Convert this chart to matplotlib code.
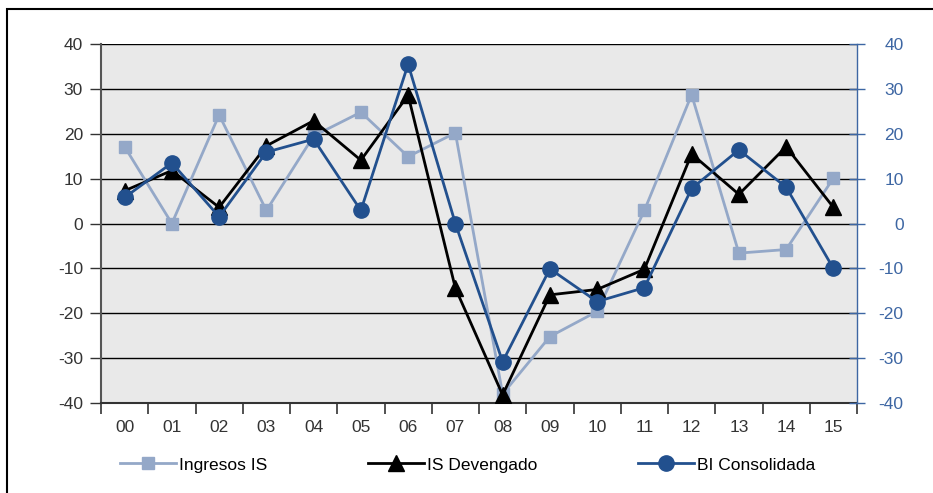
import numpy as np
import matplotlib
matplotlib.use("Agg")
import matplotlib.pyplot as plt
from matplotlib.patches import Rectangle

plt.rcParams['font.family'] = ['Liberation Sans', 'DejaVu Sans']
plt.rcParams['axes.unicode_minus'] = False

# Datos (variación %)
years = ['00', '01', '02', '03', '04', '05', '06', '07',
         '08', '09', '10', '11', '12', '13', '14', '15']
ingresos_is = [17.1, 0.0, 24.2, 2.9, 19.5, 24.8, 14.9, 20.2,
               -38.0, -25.2, -19.6, 2.9, 28.7, -6.6, -5.8, 10.1]
is_devengado = [7.3, 11.8, 3.6, 17.3, 22.9, 14.1, 28.6, -14.4,
                -38.2, -15.9, -14.7, -10.2, 15.5, 6.5, 17.1, 3.6]
bi_consolidada = [5.8, 13.5, 1.5, 15.9, 18.8, 2.9, 35.5, 0.0,
                  -30.8, -10.1, -17.4, -14.3, 7.8, 16.4, 8.1, -10.0]

c_light = '#94a8c8'
c_dark = '#22508e'
c_axis_blue = '#3d66a3'
c_text = '#333333'

fig = plt.figure(figsize=(9.33, 4.93), dpi=100)
ax = fig.add_axes([101/933, 1 - 403/493, 756/933, 359/493])
ax.set_facecolor('#e9e9e9')

x = np.arange(len(years))
ax.plot(x, ingresos_is, color=c_light, lw=2, marker='s', ms=9,
        label='Ingresos IS', zorder=3)
ax.plot(x, is_devengado, color='black', lw=2, marker='^', ms=11,
        label='IS Devengado', zorder=4)
ax.plot(x, bi_consolidada, color=c_dark, lw=2, marker='o', ms=11,
        label='BI Consolidada', zorder=5)

ax.set_xlim(-0.5, 15.5)
ax.set_ylim(-40, 40)
ax.set_yticks(range(-40, 41, 10))
ax.set_xticks(x)
ax.set_xticklabels(years)
ax.set_xticks(np.arange(-0.5, 16, 1), minor=True)
ax.tick_params(axis='x', which='major', length=0, pad=12, labelsize=12.5, colors=c_text)
ax.tick_params(axis='x', which='minor', length=8, width=1.2, color='#333333', direction='out')
ax.tick_params(axis='y', length=8, width=1, direction='out', pad=5, labelsize=12.5,
               colors=c_text)
ax.grid(axis='y', color='black', lw=1)
ax.set_axisbelow(True)

for side in ['top', 'right']:
    ax.spines[side].set_visible(False)
ax.spines['left'].set_color('#555555')
ax.spines['left'].set_linewidth(1.5)
ax.spines['bottom'].set_color('#333333')
ax.spines['bottom'].set_linewidth(1.5)

# eje derecho
ax2 = ax.twinx()
ax2.set_ylim(-40, 40)
ax2.set_yticks(range(-40, 41, 10))
ax2.tick_params(axis='y', length=11, width=1, direction='inout', pad=28,
                labelsize=12.5, colors=c_axis_blue)
for lbl in ax2.get_yticklabels():
    lbl.set_horizontalalignment('right')
for side in ['top', 'left', 'bottom']:
    ax2.spines[side].set_visible(False)
ax2.spines['right'].set_color(c_axis_blue)
ax2.spines['right'].set_linewidth(1)

fig.legend(loc='center', bbox_to_anchor=(468/933, 1 - 465/493), ncol=3,
           frameon=False, fontsize=12.5, handlelength=3.2, handletextpad=0.2,
           columnspacing=5.8)

fig.patches.append(Rectangle((7/933, -0.1), 1.1, 1 - 9/493 + 0.1,
                             transform=fig.transFigure, fill=False,
                             edgecolor='black', lw=1.5))

fig.savefig('out.png', dpi=100)
